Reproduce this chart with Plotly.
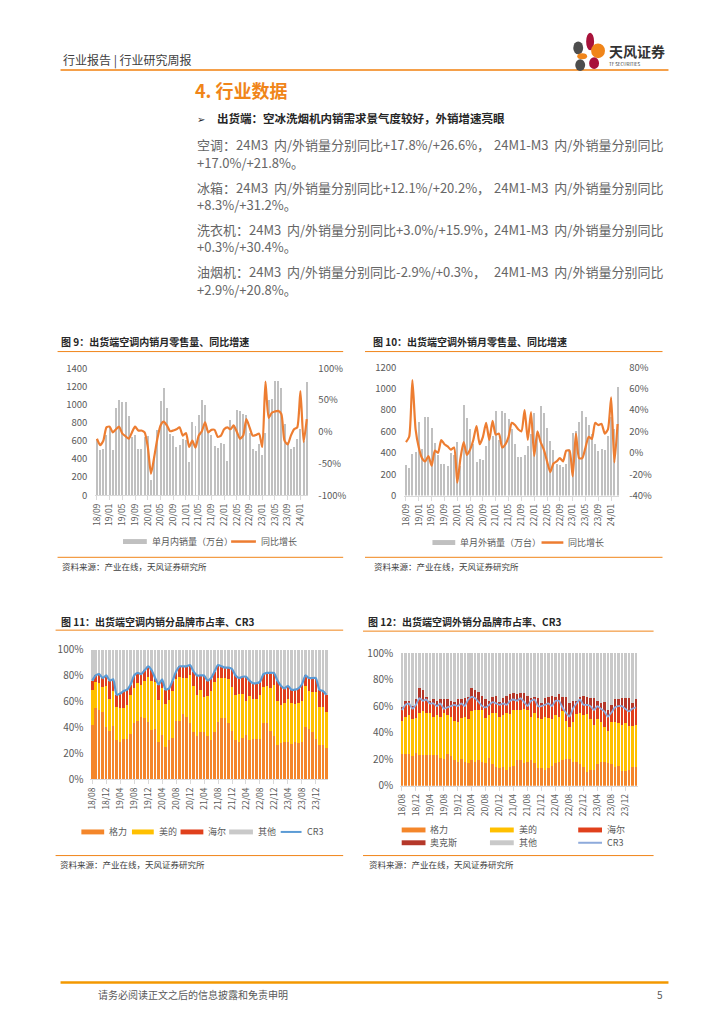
import plotly.graph_objects as go
import pandas as pd

W, H = 724, 1024
FONT = "Noto Sans CJK SC, Noto Sans, DejaVu Sans, sans-serif"


def X(p):
    return p / W


def Y(p):
    return 1 - p / H


# ---------------- DATA ----------------
# Chart 9 / 10: monthly, 18/09 .. 24/03 (67 months)
months_a = pd.period_range("2018-09", "2024-03", freq="M").strftime("%y/%m").tolist()
ticks_a = ["18/09", "19/01", "19/05", "19/09", "20/01", "20/05", "20/09", "21/01", "21/05",
           "21/09", "22/01", "22/05", "22/09", "23/01", "23/05", "23/09", "24/01"]

dom_sales = [620, 500, 510, 670,
             756, 496, 958, 1045, 1031, 1031, 875, 640, 669, 513, 513, 640,
             650, 163, 420, 720, 1038, 1183, 966, 676, 658, 531, 550, 622,
             610, 369, 810, 767, 886, 1045, 995, 700, 670, 540, 520, 580,
             560, 380, 830, 780, 940, 925, 900, 880, 690, 510, 490, 560,
             440, 690, 1050, 1060, 1265, 1255, 1180, 790, 590, 510, 530, 620,
             735, 600, 1245]
dom_yoy = [-11, -21, -14, 7,
           8, -1, 4, 8, -3, -7, -11, -1, 8, 2, 2, -1,
           -24, -66, -40, -11, 10, 16, 10, 1, 2, 4, 7, -6,
           -2, -24, -14, -25, -6, 1, 15, -1, 3, 3, -8, -6,
           4, 7, 4, 10, 0, -11, -6, 20, 7, -6, -5, -3,
           -24, 79, 22, 30, 32, 33, 28, -14, -20, -6, 4, 7,
           64, -16, 20]

exp_sales = [285, 261, 392, 408,
             684, 438, 737, 737, 629, 491, 380, 300, 300, 276, 400, 380,
             500, 280, 847, 730, 623, 484, 316, 346, 335, 460, 546, 560,
             792, 516, 792, 775, 715, 623, 484, 362, 362, 377, 460, 577,
             776, 577, 838, 776, 629, 506, 423, 300, 285, 270, 300, 438,
             583, 604, 684, 792, 737, 659, 577, 484, 417, 433, 423, 553,
             737, 625, 1013]
exp_yoy = [10, 15, 68, 22,
           5, -5, -8, -3, -12, 2, 0, 12, 8, 6, 3, 5,
           -28, -5, 10, -2, 3, 12, 25, 8, 15, 28, 12, 30,
           17, 18, 5, 8, 15, 28, 26, 22, 20, 40, 12, 38,
           -3, 20, 10, 3, -8, -18, -10, -8, -5, -8, 2, 2,
           -22, 18, -5, -5, 5, 15, 13, 28, 26, 27, 18, 22,
           52, -9, 27]

# Chart 11 / 12: monthly, 18/08 .. 24/03 (68 months)
months_b = pd.period_range("2018-08", "2024-03", freq="M").strftime("%y/%m").tolist()
ticks_b = ["18/08", "18/12", "19/04", "19/08", "19/12", "20/04", "20/08", "20/12", "21/04",
           "21/08", "21/12", "22/04", "22/08", "22/12", "23/04", "23/08", "23/12"]

gree_d = [42, 55, 53, 52, 40, 37, 41, 30, 29, 31, 31, 35, 43, 45, 48, 47, 44, 38, 39, 29,
          34, 25, 30, 32, 45, 45, 50, 48, 43, 36, 33, 36, 36, 33, 30, 36, 44, 47, 47, 43,
          37, 30, 29, 32, 34, 30, 31, 31, 31, 43, 43, 37, 33, 26, 28, 29, 29, 27, 29, 28,
          29, 40, 39, 36, 31, 26, 26, 24]
midea_d = [27, 20, 21, 19, 32, 25, 27, 26, 26, 24, 26, 30, 27, 29, 25, 29, 35, 38, 36, 32,
           36, 33, 31, 36, 32, 34, 28, 30, 37, 36, 32, 33, 27, 31, 38, 39, 34, 31, 31, 34,
           34, 35, 37, 34, 26, 34, 31, 31, 34, 28, 29, 33, 40, 34, 29, 30, 33, 32, 29, 31,
           31, 32, 29, 31, 36, 30, 30, 28]
haier_d = [7, 5, 7, 7, 8, 14, 9, 9, 11, 13, 12, 8, 10, 8, 8, 8, 8, 8, 3, 12,
           7, 11, 9, 8, 6, 8, 9, 9, 8, 11, 15, 11, 17, 12, 10, 8, 10, 9, 8, 9,
           14, 15, 12, 13, 19, 12, 12, 12, 10, 10, 10, 12, 9, 16, 15, 11, 10, 10, 11, 11,
           13, 8, 10, 11, 11, 13, 12, 13]
cr3_d = [76, 80, 81, 78, 80, 76, 77, 65, 66, 68, 69, 73, 80, 82, 81, 84, 87, 84, 78, 73,
         77, 69, 70, 76, 83, 87, 87, 87, 88, 83, 80, 80, 80, 76, 78, 83, 88, 87, 86, 86,
         85, 80, 78, 79, 79, 76, 74, 74, 75, 81, 82, 82, 82, 76, 72, 70, 72, 69, 69, 70,
         73, 80, 78, 78, 78, 69, 68, 65]

gree_e = [24, 24, 24, 22, 25, 23, 23, 23, 23, 23, 23, 21, 20, 24, 22, 19, 18, 20, 18, 17,
          19, 18, 19, 18, 17, 21, 16, 14, 13, 14, 12, 14, 15, 19, 19, 17, 18, 19, 17, 13,
          13, 12, 13, 15, 17, 18, 19, 20, 20, 18, 18, 16, 14, 10, 12, 12, 16, 18, 18, 17,
          16, 14, 15, 11, 11, 12, 14, 14]
midea_e = [25, 28, 29, 28, 26, 32, 33, 32, 32, 29, 30, 31, 35, 29, 30, 30, 30, 31, 34, 33,
           37, 39, 38, 39, 34, 32, 39, 41, 39, 39, 43, 40, 42, 38, 38, 41, 39, 33, 38, 38,
           37, 40, 38, 35, 36, 34, 37, 29, 24, 30, 36, 39, 39, 44, 38, 34, 34, 30, 26, 24,
           32, 34, 32, 35, 36, 33, 31, 32]
haier_e = [8, 9, 9, 8, 10, 11, 8, 10, 7, 10, 7, 10, 3, 6, 8, 12, 12, 11, 8, 15,
           11, 9, 6, 3, 8, 8, 8, 7, 9, 9, 6, 10, 8, 7, 9, 5, 3, 12, 10, 9,
           10, 9, 11, 10, 11, 12, 3, 6, 8, 10, 8, 10, 8, 7, 10, 11, 10, 10, 12, 11,
           7, 11, 13, 14, 11, 11, 13, 13]
aux_e = [2, 3, 2, 2, 4, 8, 8, 2, 2, 3, 4, 3, 7, 6, 4, 2, 5, 3, 6, 2,
         7, 6, 8, 8, 6, 3, 4, 6, 2, 4, 7, 5, 5, 5, 4, 7, 8, 2, 2, 6,
         2, 5, 5, 8, 3, 5, 8, 12, 10, 6, 2, 2, 7, 6, 6, 9, 4, 4, 7, 5,
         6, 6, 5, 6, 8, 10, 4, 6]
cr3_e = [57, 61, 62, 58, 61, 66, 64, 65, 62, 62, 60, 62, 58, 59, 60, 61, 60, 62, 60, 65,
         67, 66, 63, 60, 59, 61, 63, 62, 61, 62, 61, 64, 65, 64, 66, 63, 60, 64, 65, 60,
         60, 61, 62, 60, 64, 64, 59, 55, 52, 58, 62, 65, 61, 61, 60, 57, 60, 58, 56, 52,
         55, 59, 60, 60, 58, 56, 58, 59]

other_d = [100 - c for c in cr3_d]
other_e = [100 - (g + m + h + a) for g, m, h, a in zip(gree_e, midea_e, haier_e, aux_e)]

# ---------------- COLOURS ----------------
GRAY_BAR = "#C0C0C0"
ORANGE_LINE = "#ED7D31"
C_GREE = "#F4862A"
C_MIDEA = "#FFC000"
C_HAIER = "#E0401C"
C_AUX = "#B5382A"
C_OTHER = "#C9C9C9"
C_CR3_D = "#5B9BD5"
C_CR3_E = "#8EAADB"
TXT = "#595959"

fig = go.Figure()

# Chart 9
fig.add_bar(x=months_a, y=dom_sales, xaxis="x", yaxis="y", marker=dict(color=GRAY_BAR, line=dict(width=0)), width=0.62)
fig.add_scatter(x=months_a, y=dom_yoy, xaxis="x", yaxis="y2", mode="lines",
                line=dict(color=ORANGE_LINE, width=2.2, shape="spline", smoothing=0.6))
# Chart 10
fig.add_bar(x=months_a, y=exp_sales, xaxis="x2", yaxis="y3", marker=dict(color=GRAY_BAR, line=dict(width=0)), width=0.62)
fig.add_scatter(x=months_a, y=exp_yoy, xaxis="x2", yaxis="y4", mode="lines",
                line=dict(color=ORANGE_LINE, width=2.2, shape="spline", smoothing=0.6))
# Chart 11
for vals, col in [(gree_d, C_GREE), (midea_d, C_MIDEA), (haier_d, C_HAIER), (other_d, C_OTHER)]:
    fig.add_bar(x=months_b, y=vals, xaxis="x3", yaxis="y5", marker=dict(color=col, line=dict(width=0)), width=0.72)
fig.add_scatter(x=months_b, y=cr3_d, xaxis="x3", yaxis="y5", mode="lines",
                line=dict(color=C_CR3_D, width=2.2, shape="spline", smoothing=0.5))
# Chart 12
for vals, col in [(gree_e, C_GREE), (midea_e, C_MIDEA), (haier_e, C_HAIER), (aux_e, C_AUX), (other_e, C_OTHER)]:
    fig.add_bar(x=months_b, y=vals, xaxis="x4", yaxis="y6", marker=dict(color=col, line=dict(width=0)), width=0.72)
fig.add_scatter(x=months_b, y=cr3_e, xaxis="x4", yaxis="y6", mode="lines",
                line=dict(color=C_CR3_E, width=1.8, shape="spline", smoothing=0.4))


def xcat(domain, ticks, anchor):
    return dict(domain=domain, anchor=anchor, type="category", tickvals=ticks, ticktext=ticks,
                tickangle=-90, showline=True, linecolor="#D9D9D9", linewidth=1, ticks="outside",
                ticklen=4, tickcolor="#D9D9D9", tickfont=dict(size=8.5, color=TXT), showgrid=False,
                zeroline=False, fixedrange=True)


def yax(domain, anchor, rng, **kw):
    d = dict(domain=domain, anchor=anchor, range=rng, showgrid=False, zeroline=False,
             showline=False, tickfont=dict(size=9.5, color=TXT), ticklabelstandoff=7)
    d.update(kw)
    return d


fig.update_layout(
    width=W, height=H, margin=dict(l=0, r=0, t=0, b=0),
    paper_bgcolor="white", plot_bgcolor="rgba(0,0,0,0)",
    barmode="stack", showlegend=False,
    font=dict(family=FONT, size=9, color=TXT),
    xaxis=xcat([X(90.1), X(304.9)], ticks_a, "y"),
    yaxis=yax([Y(494), Y(365)], "x", [0, 1400], dtick=200),
    yaxis2=dict(overlaying="y", anchor="x", side="right", range=[-100, 100],
                tickvals=[-100, -50, 0, 50, 100], ticktext=["-100%", "-50%", "0%", "50%", "100%"],
                showgrid=False, zeroline=False, tickfont=dict(size=9.5, color=TXT), ticklabelstandoff=9),
    xaxis2=xcat([X(401.7), X(618.3)], ticks_a, "y3"),
    yaxis3=yax([Y(494.3), Y(364)], "x2", [0, 1200], dtick=200),
    yaxis4=dict(overlaying="y3", anchor="x2", side="right", range=[-40, 80],
                tickvals=[-40, -20, 0, 20, 40, 60, 80],
                ticktext=["-40%", "-20%", "0%", "20%", "40%", "60%", "80%"],
                showgrid=False, zeroline=False, tickfont=dict(size=9.5, color=TXT), ticklabelstandoff=9),
    xaxis3=xcat([X(85.2), X(324.8)], ticks_b, "y5"),
    yaxis5=yax([Y(782.3), Y(650.7)], "x3", [0, 100], dtick=20, ticksuffix="%",
               tickfont=dict(size=10, color=TXT), ticklabelstandoff=6),
    xaxis4=xcat([X(397.5), X(636.8)], ticks_b, "y6"),
    yaxis6=yax([Y(789), Y(654.3)], "x4", [0, 100], dtick=20, ticksuffix="%",
               tickfont=dict(size=10, color=TXT), ticklabelstandoff=6),
)

shapes = []
ann = []


def hline(x0, x1, y, color, w):
    shapes.append(dict(type="line", xref="paper", yref="paper", x0=X(x0), x1=X(x1), y0=Y(y), y1=Y(y),
                       line=dict(color=color, width=w)))


def rect(x0, x1, y0, y1, color):
    shapes.append(dict(type="rect", xref="paper", yref="paper", x0=X(x0), x1=X(x1), y0=Y(y1), y1=Y(y0),
                       fillcolor=color, line=dict(width=0)))


def ellipse(x0, x1, y0, y1, color):
    shapes.append(dict(type="circle", xref="paper", yref="paper", x0=X(x0), x1=X(x1), y0=Y(y1), y1=Y(y0),
                       fillcolor=color, line=dict(width=0)))


def text(x, y, s, size, color=TXT, anchor="left", bold=False):
    if bold:
        s = "<b>" + s + "</b>"
    ann.append(dict(xref="paper", yref="paper", x=X(x), y=Y(y), text=s, showarrow=False,
                    xanchor=anchor, yanchor="middle", font=dict(size=size, color=color, family=FONT),
                    align=anchor))


# Header
text(55, 52, "行业报告 | 行业研究周报", 12, "#404040")
hline(55, 668, 62, "#F5A04A", 2)
# Logo
ellipse(572, 582, 33, 46, "#4D4D4D")
ellipse(585, 593, 24, 42, "#A8123A")
ellipse(590, 604, 35, 50, "#F08519")
ellipse(576, 586, 45, 51, "#F08519")
ellipse(574, 584, 51, 63, "#4D4D4D")
ellipse(588, 598, 49, 61, "#A8123A")
text(606, 43, "天风证券", 14, "#333333", bold=True)
text(606, 56, "TF SECURITIES", 4.5, "#333333")

# Section heading
text(189, 82, "4. 行业数据", 18, "#F08519", bold=True)
text(191, 111, "➢", 10, "#262626")
text(211, 111, "出货端：空冰洗烟机内销需求景气度较好，外销增速亮眼", 11.5, "#262626", bold=True)

BODY = "#666666"
paras = [
    (138, "空调：24M3\u00a0 内/外销量分别同比+17.8%/+26.6%，", "+17.0%/+21.8%。"),
    (181, "冰箱：24M3\u00a0 内/外销量分别同比+12.1%/+20.2%，", "+8.3%/+31.2%。"),
    (224, "洗衣机：24M3\u00a0 内/外销量分别同比+3.0%/+15.9%，", "+0.3%/+30.4%。"),
    (267, "油烟机：24M3\u00a0 内/外销量分别同比-2.9%/+0.3%，", "+2.9%/+20.8%。"),
]
for yy, a, c in paras:
    text(191, yy, a, 13, BODY)
    text(665, yy, "24M1-M3\u00a0 内/外销量分别同比", 13, BODY, anchor="right")
    text(191, yy + 17.5, c, 13, BODY)

# Chart frames / titles / sources
TITLE_C = "#262626"
SRC_C = "#404040"
text(53, 338, "图 9：出货端空调内销月零售量、同比增速", 10, TITLE_C, bold=True)
hline(52, 340, 348, "#F08519", 1)
hline(52, 340, 557, "#F08519", 1)
text(54, 566, "资料来源：产业在线，天风证券研究所", 8.5, SRC_C)

text(368, 338, "图 10：出货端空调外销月零售量、同比增速", 10, TITLE_C, bold=True)
hline(362, 662, 348, "#F08519", 1)
hline(362, 662, 557, "#F08519", 1)
text(369, 566, "资料来源：产业在线，天风证券研究所", 8.5, SRC_C)

text(53, 622, "图 11：出货端空调内销分品牌市占率、CR3", 10, TITLE_C, bold=True)
hline(50, 340, 631, "#F08519", 1)
hline(50, 340, 860, "#F08519", 1)
text(52, 869, "资料来源：产业在线，天风证券研究所", 8.5, SRC_C)

text(363, 622, "图 12：出货端空调外销分品牌市占率、CR3", 10, TITLE_C, bold=True)
hline(360, 653, 632, "#F08519", 1)
hline(360, 653, 860, "#F08519", 1)
text(364, 869, "资料来源：产业在线，天风证券研究所", 8.5, SRC_C)

# Legends (manual)
rect(118, 142, 538.5, 543.5, GRAY_BAR)
text(145, 541, "单月内销量（万台）", 9)
hline(227, 252, 541, ORANGE_LINE, 2.5)
text(255, 541, "同比增长", 9)

rect(430, 453, 539.5, 544.5, GRAY_BAR)
text(456, 542, "单月外销量（万台）", 9)
hline(540, 562, 542, ORANGE_LINE, 2.5)
text(565, 542, "同比增长", 9)

for x0, x1, lab, col in [(76, 99, "格力", C_GREE), (127, 149, "美的", C_MIDEA),
                         (176, 199, "海尔", C_HAIER), (225, 249, "其他", C_OTHER)]:
    rect(x0, x1, 833.5, 838.5, col)
    text(x1 + 3, 836, lab, 9)
hline(277, 298, 836, C_CR3_D, 2)
text(301, 836, "CR3", 9)

for x0, x1, yy, lab, col in [(399, 423, 834, "格力", C_GREE), (488, 512, 834, "美的", C_MIDEA),
                             (577, 601, 834, "海尔", C_HAIER), (399, 423, 847, "奥克斯", C_AUX),
                             (488, 512, 847, "其他", C_OTHER)]:
    rect(x0, x1, yy - 2.5, yy + 2.5, col)
    text(x1 + 3, yy, lab, 9)
hline(577, 601, 847, C_CR3_E, 2)
text(604, 847, "CR3", 9)

# Footer
hline(55, 668, 989, "#F39800", 2.5)
text(91, 1001, "请务必阅读正文之后的信息披露和免责申明", 10, TXT)
text(665, 1001, "5", 10, TXT, anchor="right")

fig.update_layout(shapes=shapes, annotations=ann)
fig.write_html("out.html", config={"displayModeBar": False, "staticPlot": True},
               post_script="document.body.style.margin='0';document.body.style.overflow='hidden';")
